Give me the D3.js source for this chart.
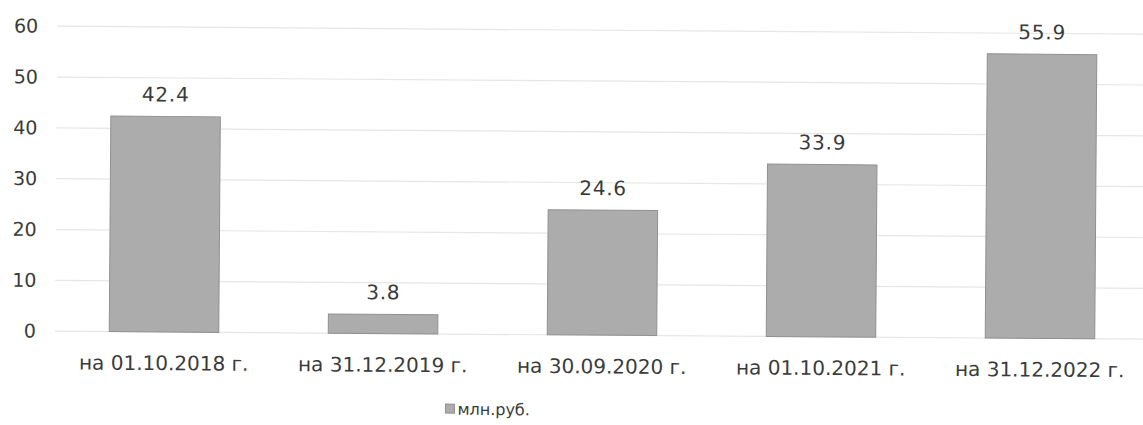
<!DOCTYPE html>
<html><head><meta charset="utf-8">
<script src="https://cdn.jsdelivr.net/npm/d3@7"></script>
<style>body{margin:0;background:#fff}svg{display:block}text{font-family:"DejaVu Sans",sans-serif;fill:#3a3a3a}</style>
</head><body><svg id="c" width="1143" height="425"></svg>
<script>
const categories = ["на 01.10.2018 г.", "на 31.12.2019 г.", "на 30.09.2020 г.", "на 01.10.2021 г.", "на 31.12.2022 г."];
const values = [42.4, 3.8, 24.6, 33.9, 55.9];
const yTicks = [0, 10, 20, 30, 40, 50, 60];
const seriesName = "млн.руб.";

const root = d3.select("#c");
const svg = root.append("g").attr("transform", "rotate(0.42,164,332)");
const x = d3.scaleBand().domain(categories).range([54.5, 1149.5]).paddingInner(0.5).paddingOuter(0.25);
const y = d3.scaleLinear().domain([0, 60]).range([332, 27]);

svg.append("g").selectAll("line").data(yTicks).join("line")
  .attr("x1", 55).attr("x2", 1160)
  .attr("y1", d => y(d)).attr("y2", d => y(d))
  .attr("stroke", "#e6e6e6").attr("stroke-width", 1.2);

const yAxis = svg.append("g").attr("transform", "translate(36,0)")
  .call(d3.axisLeft(y).tickValues(yTicks).tickSize(0).tickPadding(0));
yAxis.select(".domain").remove();
yAxis.selectAll("text").attr("font-size", 19).attr("font-family", "DejaVu Sans").attr("fill", "#3a3a3a");

svg.append("g").selectAll("rect").data(values).join("rect")
  .attr("x", (d, i) => x(categories[i])).attr("width", x.bandwidth())
  .attr("y", d => y(d)).attr("height", d => y(0) - y(d))
  .attr("fill", "#acacac").attr("stroke", "#909090").attr("stroke-width", 1);

svg.append("g").selectAll("text").data(values).join("text")
  .attr("x", (d, i) => x(categories[i]) + x.bandwidth() / 2)
  .attr("y", d => y(d) - 15)
  .attr("text-anchor", "middle").attr("font-size", 20).attr("letter-spacing", 0.8)
  .text(d => d.toFixed(1));

const xAxis = svg.append("g").attr("transform", "translate(0,332)")
  .call(d3.axisBottom(x).tickSize(0).tickPadding(24));
xAxis.select(".domain").remove();
xAxis.selectAll("text").attr("font-size", 20).attr("font-family", "DejaVu Sans").attr("fill", "#3a3a3a");

const lg = svg.append("g").attr("transform", "translate(446,407)");
lg.append("rect").attr("x", 0).attr("y", -5).attr("width", 9).attr("height", 9).attr("fill", "#acacac").attr("stroke", "#909090");
lg.append("text").attr("x", 12).attr("y", 0).attr("dy", "0.35em").attr("font-size", 16).text(seriesName);
</script></body></html>
